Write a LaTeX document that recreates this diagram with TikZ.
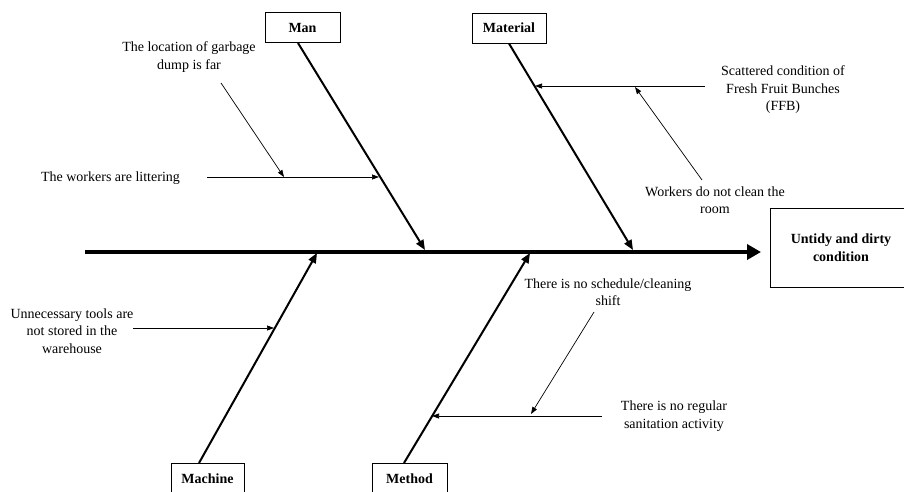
\documentclass[tikz,border=0pt]{standalone}
\usepackage{fontspec}
\setmainfont{Liberation Serif}
\usetikzlibrary{arrows.meta}
\tikzset{
  catbox/.style={draw, line width=1pt, minimum height=30pt, font=\fontsize{14}{17}\selectfont\bfseries, inner sep=0pt},
  effbox/.style={draw, line width=1pt, minimum width=142pt, minimum height=79pt, align=center, font=\fontsize{14}{17.5}\selectfont\bfseries, inner sep=0pt},
  cause/.style={align=center, font=\fontsize{14}{17.5}\selectfont, inner sep=0pt},
  spine/.style={line width=4pt, -{Triangle[length=14pt,width=15pt]}},
  bone/.style={line width=2pt, -{Triangle[length=10pt,width=8pt]}},
  sub/.style={line width=0.7pt, -{Triangle[length=7pt,width=5pt]}}
}
\begin{document}
\begin{tikzpicture}[x=1pt,y=-1pt]
\useasboundingbox (0,0) rectangle (904,491);
\clip (0,0) rectangle (904,491);
\fill[white] (0,0) rectangle (904,491);
% category boxes
\node[catbox, minimum width=75pt] (man) at (302.5,27.5) {Man};
\node[catbox, minimum width=74pt] (mat) at (509,28) {Material};
\node[catbox, minimum width=73pt] (mach) at (207.5,478.5) {Machine};
\node[catbox, minimum width=75pt] (meth) at (409.5,478.5) {Method};
\node[effbox] (eff) at (841,247.5) {Untidy and dirty\\condition};
% spine
\coordinate (sp0) at (85,252);
\coordinate (sp1) at (761,252);
\draw[spine] (sp0) -- (sp1);
% bones
\coordinate (manE) at (425,250);
\coordinate (matE) at (633,250);
\coordinate (machE) at (317,253);
\coordinate (methE) at (530,253);
\draw[bone] ([xshift=-4.5pt]man.south) -- (manE);
\draw[bone] (mat.south) -- (matE);
\draw[bone] ([xshift=-8.5pt]mach.north) -- (machE);
\draw[bone] ([xshift=-5.5pt]meth.north) -- (methE);
% cause texts
\node[cause] (garb) at (189,57) {The location of garbage\\dump is far};
\node[cause] (litt) at (110.5,178) {The workers are littering};
\node[cause] (scat) at (783,90) {Scattered condition of\\Fresh Fruit Bunches\\(FFB)};
\node[cause] (clean) at (715,200) {Workers do not clean the\\room};
\node[cause] (tools) at (72,331) {Unnecessary tools are\\not stored in the\\warehouse};
\node[cause] (regu) at (674,416) {There is no regular\\sanitation activity};
\node[cause] (sched) at (608,292) {There is no schedule/cleaning\\shift};
% sub arrows
\coordinate (littS) at (207,177);
\coordinate (littE) at (379,177);
\coordinate (garbS) at (221,83);
\coordinate (garbE) at (284,177);
\coordinate (scatS) at (705,86);
\coordinate (scatE) at (535,86);
\coordinate (cleanS) at (702,180);
\coordinate (cleanE) at (635,87);
\coordinate (toolsS) at (133,328);
\coordinate (toolsE) at (274,328);
\coordinate (reguS) at (602,416);
\coordinate (reguE) at (432,416);
\coordinate (schedS) at (594,312);
\coordinate (schedE) at (531,414);
\draw[sub] (littS) -- (littE);
\draw[sub] (garbS) -- (garbE);
\draw[sub] (scatS) -- (scatE);
\draw[sub] (cleanS) -- (cleanE);
\draw[sub] (toolsS) -- (toolsE);
\draw[sub] (reguS) -- (reguE);
\draw[sub] (schedS) -- (schedE);
\end{tikzpicture}
\end{document}
